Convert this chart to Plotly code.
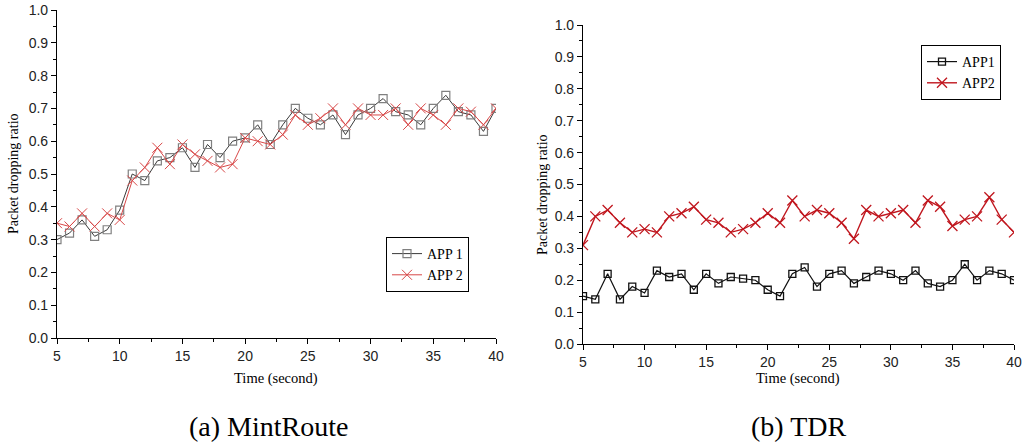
import plotly.graph_objects as go

# Time axis (seconds)
time_s = list(range(5, 41))

# (a) MintRoute
mint_app1 = [0.30, 0.32, 0.36, 0.31, 0.33, 0.39, 0.50, 0.48, 0.54, 0.55,
             0.58, 0.52, 0.59, 0.55, 0.60, 0.61, 0.65, 0.59, 0.65, 0.70,
             0.67, 0.65, 0.68, 0.62, 0.68, 0.70, 0.73, 0.69, 0.68, 0.65,
             0.70, 0.74, 0.69, 0.68, 0.63, 0.70]
mint_app2 = [0.35, 0.34, 0.38, 0.34, 0.38, 0.36, 0.48, 0.52, 0.58, 0.53,
             0.59, 0.56, 0.54, 0.52, 0.53, 0.61, 0.60, 0.59, 0.62, 0.68,
             0.65, 0.67, 0.70, 0.65, 0.70, 0.68, 0.68, 0.70, 0.65, 0.70,
             0.68, 0.65, 0.70, 0.69, 0.65, 0.70]

# (b) TDR
tdr_app1 = [0.15, 0.14, 0.22, 0.14, 0.18, 0.16, 0.23, 0.21, 0.22, 0.17,
            0.22, 0.19, 0.21, 0.205, 0.20, 0.17, 0.15, 0.22, 0.24, 0.18,
            0.22, 0.23, 0.19, 0.21, 0.23, 0.22, 0.20, 0.23, 0.19, 0.18,
            0.20, 0.25, 0.20, 0.23, 0.22, 0.20]
tdr_app2 = [0.31, 0.40, 0.42, 0.38, 0.35, 0.36, 0.35, 0.40, 0.41, 0.43,
            0.39, 0.38, 0.35, 0.36, 0.38, 0.41, 0.38, 0.45, 0.40, 0.42,
            0.41, 0.38, 0.33, 0.42, 0.40, 0.41, 0.42, 0.38, 0.45, 0.43,
            0.37, 0.39, 0.40, 0.46, 0.39, 0.35]

mint_names = ["APP 1", "APP 2"]
tdr_names = ["APP1", "APP2"]
captions = ["(a) MintRoute", "(b) TDR"]
x_title = "Time (second)"
y_title = "Packet dropping ratio"

W, H = 1026, 442
SERIF = "Liberation Serif, Times New Roman, serif"
SANS = "Liberation Sans, Arial, sans-serif"

fig = go.Figure()

# MintRoute traces
fig.add_trace(go.Scatter(
    x=time_s, y=mint_app1, name=mint_names[0], mode="lines+markers",
    line=dict(color="#3a3a3a", width=1),
    marker=dict(symbol="square-open", size=8, color="#808080",
                line=dict(color="#808080", width=1.2)),
    xaxis="x", yaxis="y", legend="legend"))
fig.add_trace(go.Scatter(
    x=time_s, y=mint_app2, name=mint_names[1], mode="lines+markers",
    line=dict(color="#d84848", width=1),
    marker=dict(symbol="x-thin", size=10, color="#d84848",
                line=dict(color="#d84848", width=1)),
    xaxis="x", yaxis="y", legend="legend"))

# TDR traces
fig.add_trace(go.Scatter(
    x=time_s, y=tdr_app1, name=tdr_names[0], mode="lines+markers",
    line=dict(color="#111111", width=1.2),
    marker=dict(symbol="square-open", size=7, color="#111111",
                line=dict(color="#111111", width=1.3)),
    xaxis="x2", yaxis="y2", legend="legend2"))
fig.add_trace(go.Scatter(
    x=time_s, y=tdr_app2, name=tdr_names[1], mode="lines+markers",
    line=dict(color="#c0161e", width=1.4),
    marker=dict(symbol="x-thin", size=10, color="#c0161e",
                line=dict(color="#c0161e", width=1.3)),
    xaxis="x2", yaxis="y2", legend="legend2"))

tick_font = dict(family=SANS, size=14, color="#222222")

def xax(domain, anchor, side="bottom", labels=True, overlay=None):
    d = dict(domain=domain, anchor=anchor, range=[5, 40], side=side,
             automargin=False,
             tickmode="linear", tick0=5, dtick=5,
             ticks="outside" if labels else "inside", ticklen=5, tickwidth=1,
             tickcolor="black", showticklabels=labels, tickfont=tick_font,
             showline=True, linecolor="black", linewidth=1.2,
             showgrid=False, zeroline=False,
             minor=dict(dtick=2.5, tick0=5, ticks="outside" if labels else "inside",
                        ticklen=3, tickwidth=1, tickcolor="black", showgrid=False))
    if overlay:
        d["overlaying"] = overlay
    return d

def yax(domain, anchor, side="left", labels=True, overlay=None):
    d = dict(domain=domain, anchor=anchor, range=[0, 1.0], side=side,
             automargin=False,
             tickmode="linear", tick0=0, dtick=0.1, tickformat=".1f",
             ticks="outside" if labels else "inside", ticklen=5, tickwidth=1,
             tickcolor="black", showticklabels=labels, tickfont=tick_font,
             showline=True, linecolor="black", linewidth=1.2,
             showgrid=False, zeroline=False,
             minor=dict(dtick=0.05, tick0=0, ticks="outside" if labels else "inside",
                        ticklen=3, tickwidth=1, tickcolor="black", showgrid=False))
    if overlay:
        d["overlaying"] = overlay
    return d

# plot areas in paper coordinates
ax_a = [57 / W, 496 / W]
ay_a = [(H - 338) / H, (H - 10) / H]
ax_b = [583 / W, 1014 / W]
ay_b = [(H - 344) / H, (H - 25) / H]

legend_style = dict(bgcolor="white", bordercolor="black", borderwidth=1,
                    font=dict(family=SERIF, size=14, color="black"),
                    xanchor="left", yanchor="top", tracegroupgap=0)

fig.update_layout(
    template="none",
    width=W, height=H, margin=dict(l=0, r=0, t=0, b=0, autoexpand=False),
    paper_bgcolor="white", plot_bgcolor="white",
    showlegend=True,
    xaxis=xax(ax_a, "y"),
    yaxis=yax(ay_a, "x"),
    xaxis2=xax(ax_b, "y2"),
    yaxis2=yax(ay_b, "x2"),
    xaxis3=xax(ax_a, "y", side="top", labels=False, overlay="x"),
    yaxis3=yax(ay_a, "x", side="right", labels=False, overlay="y"),
    xaxis4=xax(ax_b, "y2", side="top", labels=False, overlay="x2"),
    yaxis4=yax(ay_b, "x2", side="right", labels=False, overlay="y2"),
    legend=dict(legend_style, x=386 / W, y=(H - 237) / H),
    legend2=dict(legend_style, x=921 / W, y=(H - 45) / H),
)

def label(text, x, y, size, angle=0):
    return dict(text=text, x=x / W, y=(H - y) / H, xref="paper", yref="paper",
                xanchor="center", yanchor="middle", showarrow=False,
                textangle=angle, font=dict(family=SERIF, size=size, color="black"))

annotations = [
    label(x_title, 276, 378, 14.5),
    label(x_title, 798, 378, 14.5),
    label(y_title, 13, 174, 14, -90),
    label(y_title, 542, 195, 14, -90),
    label(captions[0], 268, 426, 28),
    label(captions[1], 798, 426, 28),
]
fig.update_layout(annotations=annotations)

fig.write_html("out.html")
